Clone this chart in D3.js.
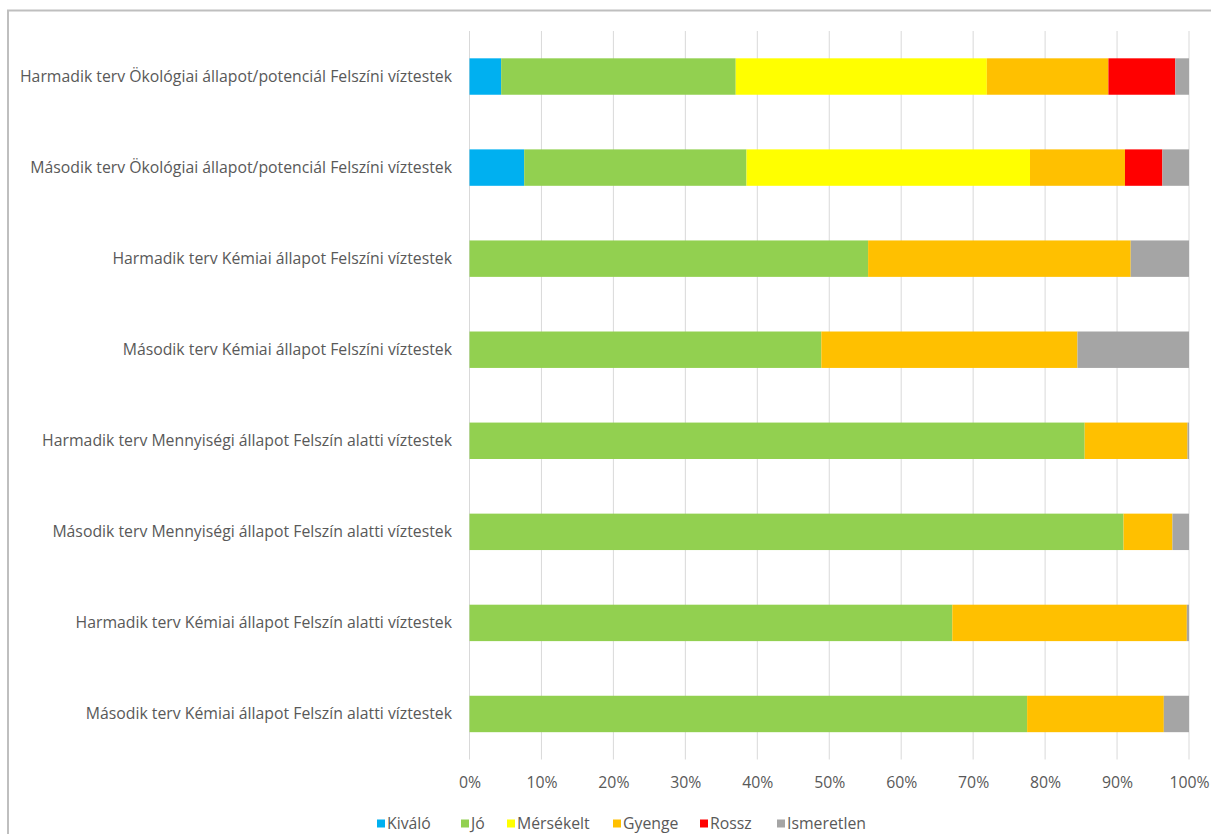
<!DOCTYPE html>
<html>
<head>
<meta charset="utf-8">
<script src="https://cdn.jsdelivr.net/npm/d3@7/dist/d3.min.js"></script>
<style>
  html, body { margin: 0; padding: 0; background: #fff; }
  svg { display: block; }
  text { font-family: "Open Sans", "Liberation Sans", Arial, sans-serif; fill: #595959; }
</style>
</head>
<body>
<svg id="chart" width="1211" height="834"></svg>
<script>
// Categories, top to bottom
const categories = [
  "Harmadik terv Ökológiai állapot/potenciál Felszíni víztestek",
  "Második terv Ökológiai állapot/potenciál Felszíni víztestek",
  "Harmadik terv Kémiai állapot Felszíni víztestek",
  "Második terv Kémiai állapot Felszíni víztestek",
  "Harmadik terv Mennyiségi állapot Felszín alatti víztestek",
  "Második terv Mennyiségi állapot Felszín alatti víztestek",
  "Harmadik terv Kémiai állapot Felszín alatti víztestek",
  "Második terv Kémiai állapot Felszín alatti víztestek"
];

// Share of water bodies per status class (%), one value per category
const kivalo     = [4.4, 7.6, 0, 0, 0, 0, 0, 0];
const jo         = [32.6, 30.9, 55.4, 48.9, 85.5, 90.9, 67.1, 77.5];
const merseklet  = [34.9, 39.4, 0, 0, 0, 0, 0, 0];
const gyenge     = [16.9, 13.2, 36.5, 35.6, 14.3, 6.8, 32.6, 19.0];
const rossz      = [9.3, 5.2, 0, 0, 0, 0, 0, 0];
const ismeretlen = [1.9, 3.7, 8.1, 15.5, 0.2, 2.3, 0.3, 3.5];

const seriesNames = ["Kiváló", "Jó", "Mérsékelt", "Gyenge", "Rossz", "Ismeretlen"];
const seriesValues = [kivalo, jo, merseklet, gyenge, rossz, ismeretlen];
const seriesColors = ["#00b0f0", "#92d050", "#ffff00", "#ffc000", "#ff0000", "#a5a5a5"];

const tickValues = [0, 0.1, 0.2, 0.3, 0.4, 0.5, 0.6, 0.7, 0.8, 0.9, 1.0];

const fontSize = 15.8;
const svg = d3.select("#chart");

// Chart frame
svg.append("path")
  .attr("d", "M8,834 L8,10.5 L1211,10.5")
  .attr("fill", "none")
  .attr("stroke", "#bfbfbf")
  .attr("stroke-width", 2);

const plot = { left: 469.5, right: 1189, top: 31, bottom: 759.5 };

// Rows of normalised values for stacking
const rows = categories.map((c, i) => {
  const total = d3.sum(seriesValues, s => s[i]);
  const row = { category: c };
  seriesNames.forEach((n, k) => { row[n] = seriesValues[k][i] / total; });
  return row;
});

const stack = d3.stack().keys(seriesNames);
const stacked = stack(rows);

const x = d3.scaleLinear().domain([0, 1]).range([plot.left, plot.right]);
const y = d3.scaleBand().domain(categories).range([plot.top, plot.bottom]).paddingInner(0.6).paddingOuter(0.3);
const color = d3.scaleOrdinal().domain(seriesNames).range(seriesColors);

// Vertical gridlines
svg.append("g")
  .selectAll("line")
  .data(tickValues)
  .join("line")
  .attr("x1", d => x(d)).attr("x2", d => x(d))
  .attr("y1", plot.top).attr("y2", plot.bottom)
  .attr("stroke", "#d9d9d9")
  .attr("stroke-width", 1);

// Stacked bars
svg.append("g")
  .selectAll("g")
  .data(stacked)
  .join("g")
  .attr("fill", d => color(d.key))
  .selectAll("rect")
  .data(d => d.filter(s => s[1] - s[0] > 0))
  .join("rect")
  .attr("x", d => x(d[0]))
  .attr("y", d => y(d.data.category))
  .attr("width", d => x(d[1]) - x(d[0]))
  .attr("height", y.bandwidth());

// Category labels
svg.append("g")
  .selectAll("text")
  .data(categories)
  .join("text")
  .attr("x", 452)
  .attr("y", d => y(d) + y.bandwidth() / 2)
  .attr("dy", "0.35em")
  .attr("text-anchor", "end")
  .attr("font-size", fontSize)
  .text(d => d);

// Percentage axis
const xAxis = d3.axisBottom(x).tickValues(tickValues).tickFormat(d3.format(".0%")).tickSize(0).tickPadding(0);
const ax = svg.append("g").attr("transform", `translate(0,${plot.bottom})`).call(xAxis);
ax.select(".domain").remove();
ax.selectAll("text")
  .attr("y", 23)
  .attr("dy", "0.35em")
  .attr("font-size", fontSize)
  .attr("font-family", null)
  .attr("fill", "#595959");

// Legend: one entry per series, laid out on a single row below the axis
const legendSlots = [377, 461, 507, 613, 700, 777];
const legend = svg.append("g").attr("transform", "translate(0,823.5)");
const items = legend.selectAll("g").data(seriesNames).join("g")
  .attr("transform", (d, i) => `translate(${legendSlots[i]},0)`);
items.append("rect").attr("width", 8).attr("height", 8).attr("y", -4).attr("fill", d => color(d));
items.append("text").attr("x", 10).attr("dy", "0.35em").attr("font-size", fontSize).text(d => d);
</script>
</body>
</html>
